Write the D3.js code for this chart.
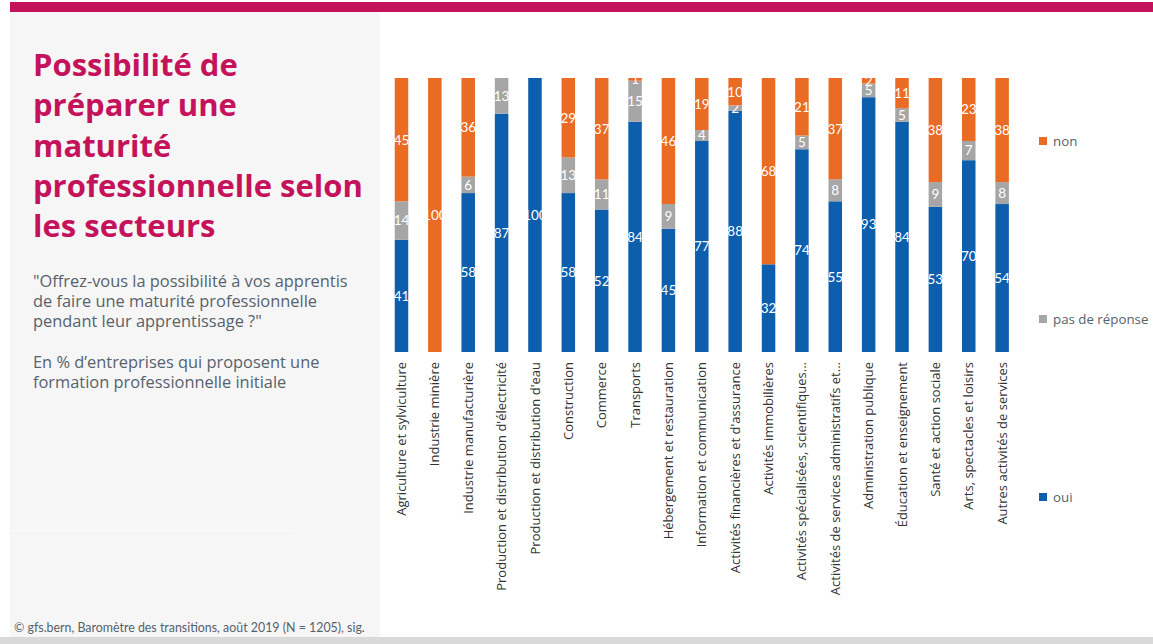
<!DOCTYPE html>
<html><head><meta charset="utf-8">
<script src="https://cdn.jsdelivr.net/npm/d3@7"></script>
<style>html,body{margin:0;padding:0;background:#fff;}svg{display:block;}</style>
</head><body>
<svg id="c" width="1153" height="644"></svg>
<script>
const categories = ["Agriculture et sylviculture","Industrie minière","Industrie manufacturière","Production et distribution d'électricité","Production et distribution d'eau","Construction","Commerce","Transports","Hébergement et restauration","Information et communication","Activités financières et d'assurance","Activités immobilières","Activités spécialisées, scientifiques...","Activités de services administratifs et...","Administration publique","Éducation et enseignement","Santé et action sociale","Arts, spectacles et loisirs","Autres activités de services"];
const oui = [41,0,58,87,100,58,52,84,45,77,88,32,74,55,93,84,53,70,54];
const pasDeReponse = [14,0,6,13,0,13,11,15,9,4,2,0,5,8,5,5,9,7,8];
const non = [45,100,36,0,0,29,37,1,46,19,10,68,21,37,2,11,38,23,38];
const seriesNames = ["oui","pas de réponse","non"];
const colors = {"oui":"#0d5fae","pas de réponse":"#a6a6a6","non":"#e96b24"};
const titleLines = ["Possibilité de","préparer une","maturité","professionnelle selon","les secteurs"];
const subLines = ["\"Offrez-vous la possibilité à vos apprentis","de faire une maturité professionnelle","pendant leur apprentissage ?\""];
const subLines2 = ["En % d’entreprises qui proposent une","formation professionnelle initiale"];
const source = "© gfs.bern, Baromètre des transitions, août 2019 (N = 1205), sig.";

const svg = d3.select("#c");
// frame
svg.append("rect").attr("x",10).attr("y",12).attr("width",370).attr("height",625).attr("fill","#f6f6f6");
svg.append("rect").attr("x",10).attr("y",2).attr("width",1143).attr("height",10).attr("fill","#c4135b");
svg.append("rect").attr("x",0).attr("y",637).attr("width",1153).attr("height",7).attr("fill","#d9d9d9");
svg.append("line").attr("x1",10).attr("x2",295).attr("y1",530.5).attr("y2",530.5).attr("stroke","#fbfbfb").attr("stroke-width",1.5);

const title = svg.append("text").attr("x",33).attr("fill","#c4135b")
  .attr("font-family","'Open Sans', sans-serif").attr("font-weight","bold").attr("font-size",31);
const tsp = titleLines.map((t,i)=>title.append("tspan").attr("x",33).attr("y",76+i*40.3).text(t));
// fit longest line to the reference width
const longest = d3.max(tsp, s=>s.node().getComputedTextLength());
title.attr("font-size", 31*330/longest);

const sub = svg.append("text").attr("fill","#56626c").attr("font-family","'Open Sans', sans-serif").attr("font-size",16.4);
subLines.forEach((t,i)=>sub.append("tspan").attr("x",33).attr("y",287+i*20).text(t));
subLines2.forEach((t,i)=>sub.append("tspan").attr("x",33).attr("y",368+i*20).text(t));
svg.append("text").attr("x",14).attr("y",632).attr("fill","#56626c").attr("font-family","Lato, sans-serif").attr("font-size",12.4).text(source);

// chart
const data = categories.map((c,i)=>({cat:c,"oui":oui[i],"pas de réponse":pasDeReponse[i],"non":non[i]}));
const stack = d3.stack().keys(seriesNames)(data);
const x = d3.scaleBand().domain(categories).range([384.8,1018.8]).paddingInner(0.595).paddingOuter(0.2975);
const y = d3.scaleLinear().domain([0,100]).range([352,78]);

const g = svg.append("g");
stack.forEach(s=>{
  const key = s.key;
  g.selectAll(null).data(s).enter().append("rect")
    .attr("x",d=>x(d.data.cat)).attr("width",x.bandwidth())
    .attr("y",d=>y(d[1])).attr("height",d=>Math.max(0,y(d[0])-y(d[1])))
    .attr("fill",colors[key]);
  g.selectAll(null).data(s.filter(d=>d[1]-d[0]>0)).enter().append("text")
    .attr("x",d=>x(d.data.cat)+x.bandwidth()/2)
    .attr("y",d=>(y(d[0])+y(d[1]))/2)
    .attr("dy","0.36em").attr("text-anchor","middle")
    .attr("fill","#fff").attr("font-family","Lato, sans-serif").attr("font-size",13.5)
    .text(d=>d[1]-d[0]);
});

// x axis labels
const ax = svg.append("g").attr("transform","translate(0,362)")
  .call(d3.axisBottom(x).tickSize(0).tickPadding(0));
ax.select(".domain").remove();
ax.selectAll("text").attr("transform","rotate(-90)").attr("text-anchor","end")
  .attr("x",0).attr("y",0).attr("dy","0.35em")
  .attr("fill","#333").attr("font-family","'Open Sans', sans-serif").attr("font-size",13);

// legend
const legendY = {"non":141,"pas de réponse":319,"oui":497};
const lg = svg.append("g");
seriesNames.forEach(k=>{
  lg.append("rect").attr("x",1039).attr("y",legendY[k]-4).attr("width",8).attr("height",8).attr("fill",colors[k]);
  lg.append("text").attr("x",1053).attr("y",legendY[k]).attr("dy","0.35em").attr("fill","#56626c")
    .attr("font-family","'Open Sans', sans-serif").attr("font-size",13.3).text(k);
});
</script>
</body></html>
